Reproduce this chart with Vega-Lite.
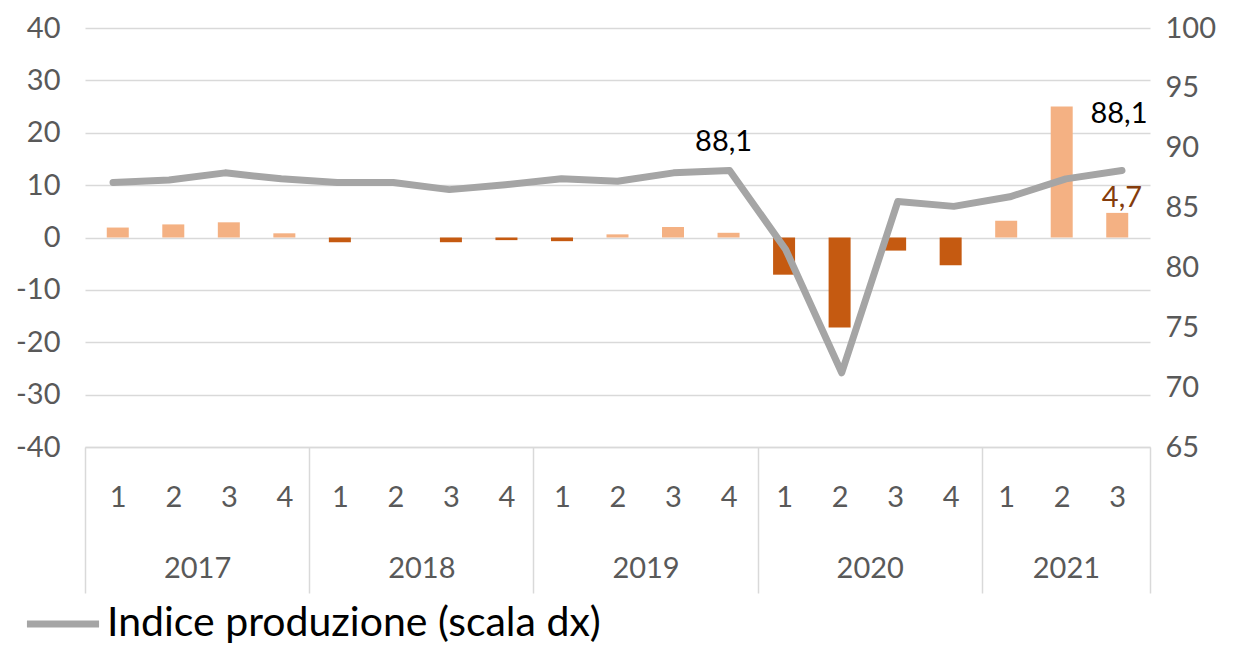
{
  "$schema": "https://vega.github.io/schema/vega-lite/v6.json",
  "width": 1065,
  "height": 419,
  "autosize": {"type": "none"},
  "padding": {"left": 85, "top": 28, "right": 86, "bottom": 201},
  "background": "white",
  "config": {
    "view": {"stroke": null},
    "font": "Lato",
    "locale": {"number": {"decimal": ",", "thousands": ".", "grouping": [3], "currency": ["€", ""], "minus": "-"}},
    "axis": {"labelFont": "Lato", "labelFontSize": 29, "labelColor": "#595959", "labelOverlap": false, "labelFlush": false, "labelBound": false}
  },
  "data": {
    "values": [
      {"idx": 0, "year": 2017, "q": 1, "var": 1.9, "indice": 87.1},
      {"idx": 1, "year": 2017, "q": 2, "var": 2.5, "indice": 87.3},
      {"idx": 2, "year": 2017, "q": 3, "var": 2.9, "indice": 87.9},
      {"idx": 3, "year": 2017, "q": 4, "var": 0.8, "indice": 87.4},
      {"idx": 4, "year": 2018, "q": 1, "var": -0.9, "indice": 87.1},
      {"idx": 5, "year": 2018, "q": 2, "var": 0.0, "indice": 87.1},
      {"idx": 6, "year": 2018, "q": 3, "var": -0.9, "indice": 86.5},
      {"idx": 7, "year": 2018, "q": 4, "var": -0.5, "indice": 86.9},
      {"idx": 8, "year": 2019, "q": 1, "var": -0.7, "indice": 87.4},
      {"idx": 9, "year": 2019, "q": 2, "var": 0.6, "indice": 87.2},
      {"idx": 10, "year": 2019, "q": 3, "var": 2.0, "indice": 87.9},
      {"idx": 11, "year": 2019, "q": 4, "var": 0.9, "indice": 88.1},
      {"idx": 12, "year": 2020, "q": 1, "var": -7.1, "indice": 81.5},
      {"idx": 13, "year": 2020, "q": 2, "var": -17.2, "indice": 71.2},
      {"idx": 14, "year": 2020, "q": 3, "var": -2.5, "indice": 85.5},
      {"idx": 15, "year": 2020, "q": 4, "var": -5.3, "indice": 85.1},
      {"idx": 16, "year": 2021, "q": 1, "var": 3.2, "indice": 85.9},
      {"idx": 17, "year": 2021, "q": 2, "var": 25.0, "indice": 87.4},
      {"idx": 18, "year": 2021, "q": 3, "var": 4.7, "indice": 88.1}
    ]
  },
  "resolve": {"scale": {"x": "independent", "y": "independent", "stroke": "independent"}},
  "layer": [
    {
      "mark": {"type": "bar", "size": 22},
      "encoding": {
        "x": {
          "field": "idx", "type": "quantitative",
          "scale": {"domain": [-0.5, 18.5], "nice": false, "zero": false},
          "axis": {
            "orient": "bottom", "title": null,
            "values": [0, 1, 2, 3, 4, 5, 6, 7, 8, 9, 10, 11, 12, 13, 14, 15, 16, 17, 18],
            "labelExpr": "'' + (datum.value % 4 + 1)",
            "labelPadding": 36, "ticks": false, "grid": false,
            "domain": true, "domainColor": "#D9D9D9", "domainWidth": 1.5
          }
        },
        "y": {
          "field": "var", "type": "quantitative",
          "scale": {"domain": [-40, 40], "nice": false},
          "axis": {
            "orient": "left", "title": null, "values": [-40, -30, -20, -10, 0, 10, 20, 30, 40],
            "format": "d", "ticks": false, "domain": false, "labelPadding": 25,
            "grid": true, "gridColor": "#D9D9D9", "gridWidth": 1.5
          }
        },
        "color": {"condition": {"test": "datum['var'] < 0", "value": "#C55A11"}, "value": "#F4B183"}
      }
    },
    {
      "mark": {"type": "line", "strokeWidth": 7, "strokeJoin": "round", "strokeCap": "round"},
      "encoding": {
        "x": {
          "field": "idx", "type": "quantitative",
          "scale": {"domain": [-0.5, 18.5], "nice": false, "zero": false},
          "axis": {
            "orient": "bottom", "title": null,
            "values": [-0.5, 3.5, 7.5, 11.5, 15.5, 18.5],
            "labels": false, "ticks": true, "tickSize": 146, "tickColor": "#D9D9D9", "tickWidth": 1.5,
            "grid": false, "domain": false
          }
        },
        "y": {
          "field": "indice", "type": "quantitative",
          "scale": {"domain": [65, 100], "nice": false, "zero": false},
          "axis": {
            "orient": "right", "title": null, "values": [65, 70, 75, 80, 85, 90, 95, 100],
            "format": "d", "ticks": false, "domain": false, "grid": false, "labelPadding": 15
          }
        },
        "stroke": {
          "datum": "Indice produzione (scala dx)",
          "scale": {"range": ["#A5A5A5"]},
          "legend": {
            "title": null, "orient": "none", "legendX": -62, "legendY": 556,
            "symbolType": "stroke", "symbolSize": 5200, "symbolStrokeWidth": 7,
            "symbolStrokeColor": "#A5A5A5",
            "labelFont": "Lato", "labelFontSize": 41, "labelColor": "#000000", "labelOffset": 4,
            "labelLimit": 800
          }
        }
      }
    },
    {
      "transform": [{"filter": "datum.idx == 11"}],
      "mark": {"type": "text", "font": "Lato", "fontSize": 29, "color": "#000000", "dx": -6, "dy": -28, "baseline": "middle", "align": "center"},
      "encoding": {
        "x": {
          "field": "idx", "type": "quantitative",
          "scale": {"domain": [-0.5, 18.5], "nice": false, "zero": false},
          "axis": {
            "orient": "bottom", "title": null,
            "values": [1.5, 5.5, 9.5, 13.5, 17],
            "labelExpr": "datum.value < 3 ? '2017' : datum.value < 7 ? '2018' : datum.value < 11 ? '2019' : datum.value < 15 ? '2020' : '2021'",
            "labelPadding": 107, "ticks": false, "grid": false, "domain": false
          }
        },
        "y": {"field": "indice", "type": "quantitative", "scale": {"domain": [65, 100], "nice": false, "zero": false}, "axis": null},
        "text": {"field": "indice", "type": "quantitative", "format": ".1f"}
      }
    },
    {
      "transform": [{"filter": "datum.idx == 18"}],
      "mark": {"type": "text", "font": "Lato", "fontSize": 29, "color": "#000000", "dx": -3, "dy": -56, "baseline": "middle", "align": "center"},
      "encoding": {
        "x": {"field": "idx", "type": "quantitative", "scale": {"domain": [-0.5, 18.5], "nice": false, "zero": false}, "axis": null},
        "y": {"field": "indice", "type": "quantitative", "scale": {"domain": [65, 100], "nice": false, "zero": false}, "axis": null},
        "text": {"field": "indice", "type": "quantitative", "format": ".1f"}
      }
    },
    {
      "transform": [{"filter": "datum.idx == 18"}],
      "mark": {"type": "text", "font": "Lato", "fontSize": 29, "color": "#843C0C", "dx": 0, "dy": -15, "baseline": "middle", "align": "center"},
      "encoding": {
        "x": {"field": "idx", "type": "quantitative", "scale": {"domain": [-0.5, 18.5], "nice": false, "zero": false}, "axis": null},
        "y": {"field": "var", "type": "quantitative", "scale": {"domain": [-40, 40], "nice": false}, "axis": null},
        "text": {"field": "var", "type": "quantitative", "format": ".1f"}
      }
    }
  ]
}
